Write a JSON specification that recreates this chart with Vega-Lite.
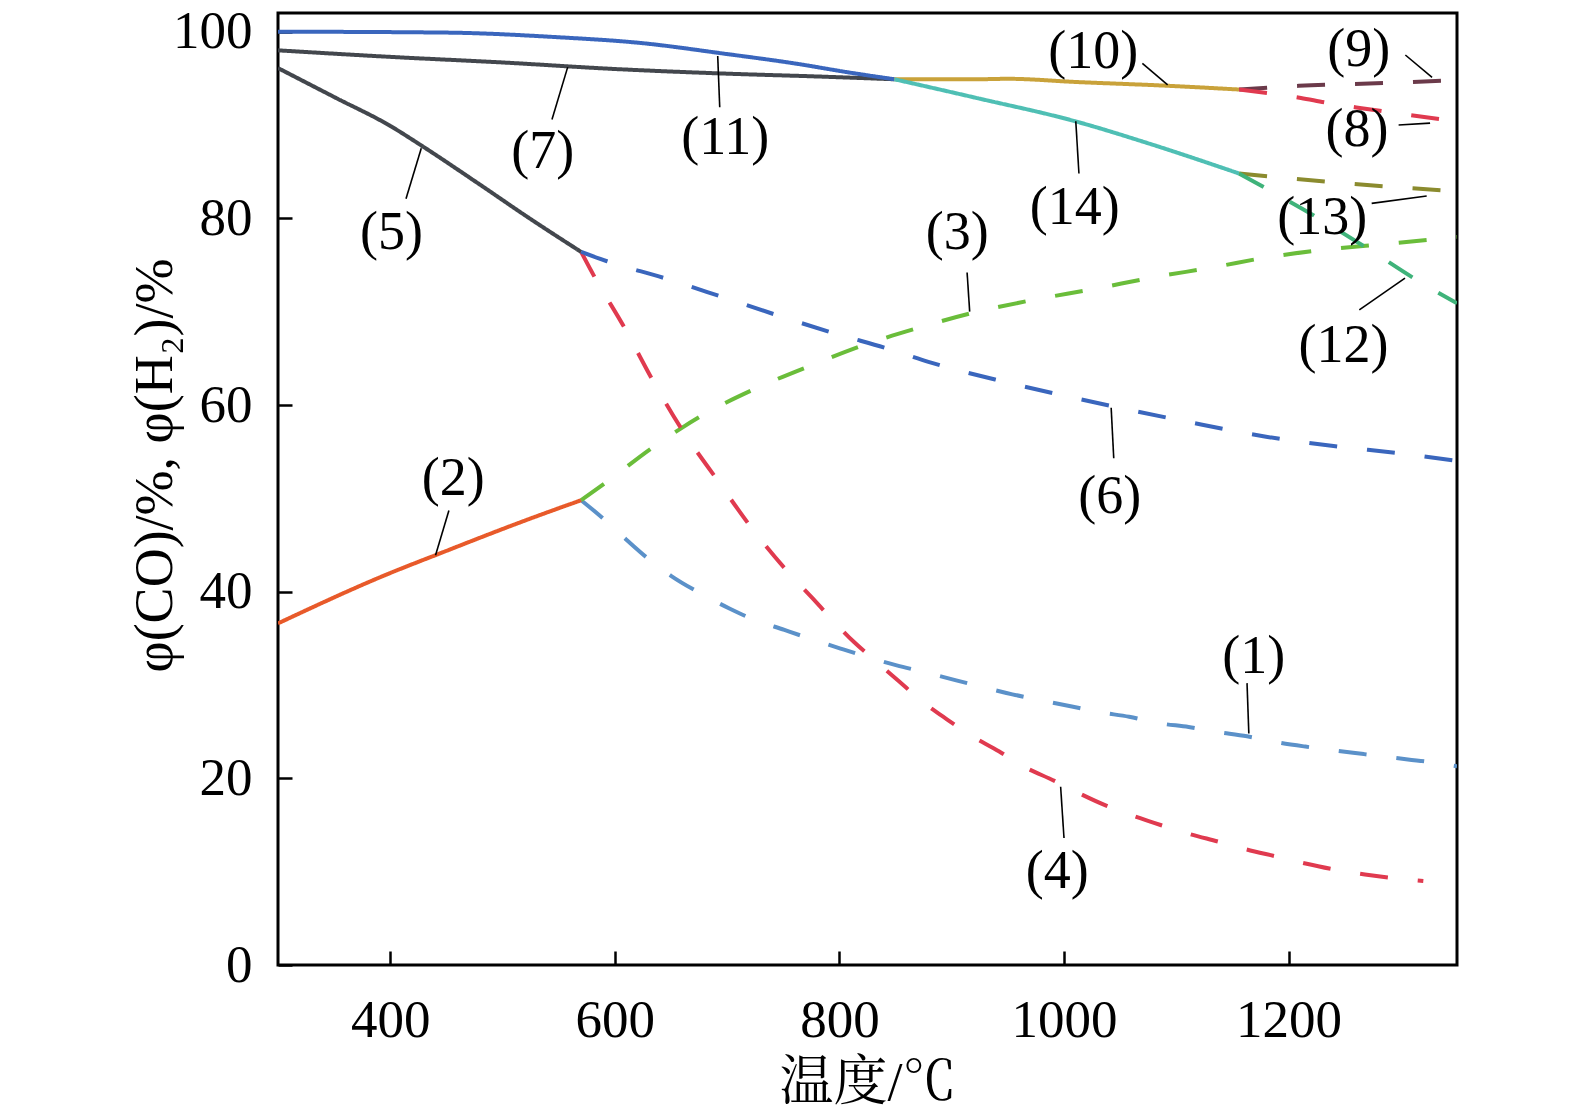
{
  "$schema": "https://vega.github.io/schema/vega-lite/v6.json",
  "width": 1179,
  "height": 952,
  "autosize": {"type": "none"},
  "padding": {"left": 278, "top": 13, "right": 118, "bottom": 155},
  "background": "white",
  "config": {
    "view": {"stroke": "black", "strokeWidth": 3},
    "axis": {
      "grid": false,
      "domain": false,
      "tickColor": "black",
      "tickWidth": 2.5,
      "tickSize": -14,
      "labelFont": "Liberation Serif",
      "labelFontSize": 53,
      "labelColor": "black",
      "titleFont": "Liberation Serif, Noto Sans CJK SC",
      "titleFontSize": 54,
      "titleFontWeight": "normal",
      "titleColor": "black"
    }
  },
  "datasets": {
    "curves": [
      {"s": "1", "x": 570, "y": 49.8}, {"s": "1", "x": 589, "y": 47.9}, {"s": "1", "x": 610, "y": 45.6}, {"s": "1", "x": 629, "y": 43.6}, {"s": "1", "x": 650, "y": 41.7}, {"s": "1", "x": 675, "y": 39.9}, {"s": "1", "x": 702, "y": 38.2}, {"s": "1", "x": 722, "y": 37.1}, {"s": "1", "x": 751, "y": 35.9}, {"s": "1", "x": 773, "y": 35.0}, {"s": "1", "x": 801, "y": 33.9}, {"s": "1", "x": 851, "y": 32.1}, {"s": "1", "x": 875, "y": 31.4}, {"s": "1", "x": 904, "y": 30.5}, {"s": "1", "x": 927, "y": 29.8}, {"s": "1", "x": 954, "y": 29.0}, {"s": "1", "x": 978, "y": 28.4}, {"s": "1", "x": 1007, "y": 27.7}, {"s": "1", "x": 1031, "y": 27.1}, {"s": "1", "x": 1058, "y": 26.6}, {"s": "1", "x": 1085, "y": 25.9}, {"s": "1", "x": 1111, "y": 25.5}, {"s": "1", "x": 1135, "y": 25.0}, {"s": "1", "x": 1163, "y": 24.5}, {"s": "1", "x": 1188, "y": 23.9}, {"s": "1", "x": 1215, "y": 23.4}, {"s": "1", "x": 1240, "y": 23.0}, {"s": "1", "x": 1267, "y": 22.6}, {"s": "1", "x": 1294, "y": 22.2}, {"s": "1", "x": 1322, "y": 21.8}, {"s": "1", "x": 1350, "y": 21.3},
      {"s": "2", "x": 300, "y": 36.6}, {"s": "2", "x": 400, "y": 42.0}, {"s": "2", "x": 440, "y": 43.9}, {"s": "2", "x": 524, "y": 47.8}, {"s": "2", "x": 570, "y": 49.8},
      {"s": "3", "x": 570, "y": 49.8}, {"s": "3", "x": 591, "y": 51.6}, {"s": "3", "x": 633, "y": 55.4}, {"s": "3", "x": 659, "y": 57.5}, {"s": "3", "x": 678, "y": 58.9}, {"s": "3", "x": 726, "y": 61.8}, {"s": "3", "x": 776, "y": 64.3}, {"s": "3", "x": 826, "y": 66.6}, {"s": "3", "x": 874, "y": 68.4}, {"s": "3", "x": 916, "y": 69.8}, {"s": "3", "x": 970, "y": 71.2}, {"s": "3", "x": 1030, "y": 72.5}, {"s": "3", "x": 1076, "y": 73.6}, {"s": "3", "x": 1135, "y": 74.8}, {"s": "3", "x": 1180, "y": 75.8}, {"s": "3", "x": 1229, "y": 76.6}, {"s": "3", "x": 1290, "y": 77.3}, {"s": "3", "x": 1350, "y": 78.0},
      {"s": "4", "x": 570, "y": 76.4}, {"s": "4", "x": 582, "y": 73.7}, {"s": "4", "x": 608, "y": 68.4}, {"s": "4", "x": 633, "y": 62.8}, {"s": "4", "x": 659, "y": 57.5}, {"s": "4", "x": 691, "y": 52.0}, {"s": "4", "x": 722, "y": 46.8}, {"s": "4", "x": 755, "y": 42.0}, {"s": "4", "x": 776, "y": 39.3}, {"s": "4", "x": 792, "y": 37.2}, {"s": "4", "x": 813, "y": 34.6}, {"s": "4", "x": 831, "y": 32.7}, {"s": "4", "x": 853, "y": 30.4}, {"s": "4", "x": 872, "y": 28.4}, {"s": "4", "x": 896, "y": 26.3}, {"s": "4", "x": 917, "y": 24.6}, {"s": "4", "x": 942, "y": 22.9}, {"s": "4", "x": 962, "y": 21.4}, {"s": "4", "x": 992, "y": 19.7}, {"s": "4", "x": 1010, "y": 18.6}, {"s": "4", "x": 1037, "y": 17.1}, {"s": "4", "x": 1059, "y": 16.1}, {"s": "4", "x": 1086, "y": 15.0}, {"s": "4", "x": 1110, "y": 14.1}, {"s": "4", "x": 1138, "y": 13.2}, {"s": "4", "x": 1162, "y": 12.4}, {"s": "4", "x": 1190, "y": 11.6}, {"s": "4", "x": 1214, "y": 10.9}, {"s": "4", "x": 1242, "y": 10.2}, {"s": "4", "x": 1268, "y": 9.7}, {"s": "4", "x": 1294, "y": 9.3}, {"s": "4", "x": 1320, "y": 9.0},
      {"s": "5", "x": 300, "y": 96.1}, {"s": "5", "x": 350, "y": 93.0}, {"s": "5", "x": 400, "y": 89.9}, {"s": "5", "x": 429, "y": 87.7}, {"s": "5", "x": 480, "y": 83.6}, {"s": "5", "x": 524, "y": 80.0}, {"s": "5", "x": 570, "y": 76.4},
      {"s": "6", "x": 570, "y": 76.4}, {"s": "6", "x": 593, "y": 75.4}, {"s": "6", "x": 644, "y": 73.6}, {"s": "6", "x": 695, "y": 71.6}, {"s": "6", "x": 745, "y": 69.6}, {"s": "6", "x": 795, "y": 67.7}, {"s": "6", "x": 847, "y": 65.9}, {"s": "6", "x": 880, "y": 64.6}, {"s": "6", "x": 950, "y": 62.4}, {"s": "6", "x": 1042, "y": 59.9}, {"s": "6", "x": 1110, "y": 58.2}, {"s": "6", "x": 1180, "y": 56.6}, {"s": "6", "x": 1240, "y": 55.6}, {"s": "6", "x": 1301, "y": 54.8}, {"s": "6", "x": 1350, "y": 54.0},
      {"s": "7", "x": 300, "y": 98.0}, {"s": "7", "x": 400, "y": 97.3}, {"s": "7", "x": 500, "y": 96.7}, {"s": "7", "x": 600, "y": 96.0}, {"s": "7", "x": 700, "y": 95.5}, {"s": "7", "x": 780, "y": 95.2}, {"s": "7", "x": 849, "y": 94.9},
      {"s": "11", "x": 300, "y": 100.0}, {"s": "11", "x": 450, "y": 99.9}, {"s": "11", "x": 550, "y": 99.4}, {"s": "11", "x": 622, "y": 98.8}, {"s": "11", "x": 700, "y": 97.6}, {"s": "11", "x": 760, "y": 96.6}, {"s": "11", "x": 810, "y": 95.6}, {"s": "11", "x": 849, "y": 94.9},
      {"s": "10", "x": 849, "y": 94.9}, {"s": "10", "x": 922, "y": 94.9}, {"s": "10", "x": 950, "y": 94.95}, {"s": "10", "x": 1012, "y": 94.6}, {"s": "10", "x": 1093, "y": 94.2}, {"s": "10", "x": 1156, "y": 93.8},
      {"s": "14", "x": 849, "y": 94.9}, {"s": "14", "x": 922, "y": 92.9}, {"s": "14", "x": 1010, "y": 90.4}, {"s": "14", "x": 1076, "y": 88.0}, {"s": "14", "x": 1156, "y": 84.8},
      {"s": "9", "x": 1156, "y": 93.8}, {"s": "9", "x": 1209, "y": 94.2}, {"s": "9", "x": 1287, "y": 94.5}, {"s": "9", "x": 1350, "y": 94.8},
      {"s": "8", "x": 1156, "y": 93.8}, {"s": "8", "x": 1211, "y": 92.9}, {"s": "8", "x": 1233, "y": 92.4}, {"s": "8", "x": 1265, "y": 91.8}, {"s": "8", "x": 1300, "y": 91.2}, {"s": "8", "x": 1350, "y": 90.4},
      {"s": "13", "x": 1156, "y": 84.8}, {"s": "13", "x": 1236, "y": 83.9}, {"s": "13", "x": 1300, "y": 83.3}, {"s": "13", "x": 1350, "y": 82.9},
      {"s": "12", "x": 1156, "y": 84.8}, {"s": "12", "x": 1180, "y": 83.2}, {"s": "12", "x": 1224, "y": 80.2}, {"s": "12", "x": 1270, "y": 76.8}, {"s": "12", "x": 1314, "y": 73.4}, {"s": "12", "x": 1350, "y": 70.9}
    ],
    "labels": [
      {"label": "(1)", "x": 1169, "y": 33.0, "x1": 1163, "y1": 30.2, "x2": 1164.6, "y2": 24.8},
      {"label": "(2)", "x": 456, "y": 52.1, "x1": 452.2, "y1": 48.7, "x2": 440.3, "y2": 43.9},
      {"label": "(3)", "x": 905, "y": 78.4, "x1": 913.7, "y1": 74.2, "x2": 916, "y2": 70.0},
      {"label": "(4)", "x": 994, "y": 10.0, "x1": 1000, "y1": 13.6, "x2": 997, "y2": 19.1},
      {"label": "(5)", "x": 401, "y": 78.4, "x1": 414, "y1": 82.1, "x2": 427.6, "y2": 87.5},
      {"label": "(6)", "x": 1040.7, "y": 50.1, "x1": 1044.3, "y1": 54.3, "x2": 1042, "y2": 59.7},
      {"label": "(7)", "x": 535.8, "y": 87.1, "x1": 544, "y1": 90.6, "x2": 558, "y2": 96.2},
      {"label": "(8)", "x": 1261, "y": 89.5, "x1": 1298, "y1": 90.0, "x2": 1326, "y2": 90.2},
      {"label": "(9)", "x": 1262.5, "y": 98.0, "x1": 1304, "y1": 97.5, "x2": 1327.8, "y2": 95.1},
      {"label": "(10)", "x": 1026, "y": 97.8, "x1": 1069.8, "y1": 96.6, "x2": 1092.3, "y2": 94.3},
      {"label": "(11)", "x": 698.4, "y": 88.6, "x1": 693.4, "y1": 91.9, "x2": 691.6, "y2": 97.4},
      {"label": "(12)", "x": 1249, "y": 66.3, "x1": 1263, "y1": 70.2, "x2": 1303.7, "y2": 73.6},
      {"label": "(13)", "x": 1230, "y": 80.0, "x1": 1274, "y1": 81.6, "x2": 1323, "y2": 82.4},
      {"label": "(14)", "x": 1009.6, "y": 81.1, "x1": 1013.3, "y1": 84.8, "x2": 1010.5, "y2": 90.4}
    ]
  },
  "layer": [
    {
      "data": {"name": "curves"},
      "mark": {"type": "line", "strokeWidth": 4, "interpolate": "monotone", "clip": true},
      "encoding": {
        "x": {"field": "x", "type": "quantitative", "scale": {"domain": [300, 1350], "nice": false, "zero": false},
              "axis": {"values": [400, 600, 800, 1000, 1200], "format": "d", "labelPadding": 43, "title": "温度/℃", "titleY": 134, "titleBaseline": "alphabetic", "titleFont": "Liberation Serif, Noto Serif CJK SC, Noto Sans CJK SC", "titleFontSize": 54}},
        "y": {"field": "y", "type": "quantitative", "scale": {"domain": [0, 102], "nice": false, "zero": false},
              "axis": {"values": [0, 20, 40, 60, 80, 100], "format": "d", "labelPadding": 40, "title": "φ(CO)/%, φ(H₂)/%", "titleX": -123, "titleY": 452, "titleBaseline": "middle", "titleAngle": -90}},
        "detail": {"field": "s", "type": "nominal"},
        "color": {"field": "s", "type": "nominal", "legend": null,
                  "scale": {"domain": ["1","2","3","4","5","6","7","8","9","10","11","12","13","14"],
                            "range": ["#5b91c9","#e85a2a","#6abd3a","#e03a4f","#43474d","#3a66bd","#43474d","#e03a4f","#6b3a4a","#c9a23a","#3a66bd","#3fb37a","#8b8b2e","#4fbfb4"]}},
        "strokeDash": {"field": "s", "type": "nominal", "legend": null,
                  "scale": {"domain": ["1","2","3","4","5","6","7","8","9","10","11","12","13","14"],
                            "range": [[28,30],[1,0],[28,30],[28,30],[1,0],[28,30],[1,0],[28,30],[28,30],[1,0],[1,0],[28,30],[28,30],[1,0]]}}
      }
    },
    {
      "data": {"name": "labels"},
      "mark": {"type": "rule", "color": "black", "strokeWidth": 1.6},
      "encoding": {
        "x": {"field": "x1", "type": "quantitative"},
        "y": {"field": "y1", "type": "quantitative"},
        "x2": {"field": "x2"},
        "y2": {"field": "y2"}
      }
    },
    {
      "data": {"name": "labels"},
      "mark": {"type": "text", "font": "Liberation Serif", "fontSize": 54, "color": "black", "align": "center", "baseline": "middle"},
      "encoding": {
        "x": {"field": "x", "type": "quantitative"},
        "y": {"field": "y", "type": "quantitative"},
        "text": {"field": "label"}
      }
    }
  ]
}
